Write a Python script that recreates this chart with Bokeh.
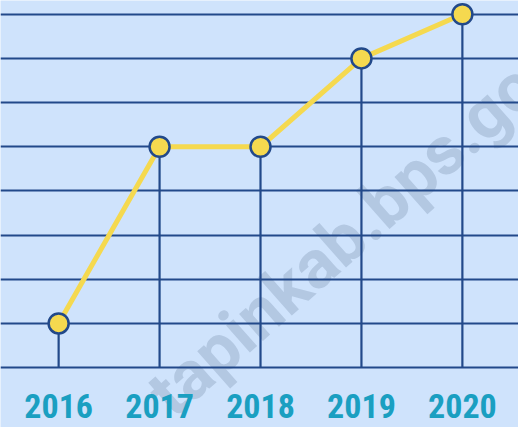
from bokeh.plotting import figure
from bokeh.models import Range1d, FixedTicker, ColumnDataSource
from bokeh.core.properties import value
from bokeh.embed import file_html
from bokeh.resources import INLINE

# data
years = [2016, 2017, 2018, 2019, 2020]
values = [1, 5, 5, 7, 8]
year_labels = ["2016", "2017", "2018", "2019", "2020"]
grid_levels = [0, 1, 2, 3, 4, 5, 6, 7, 8]

BG = "#cfe3fc"
NAVY = "#22498a"
YELLOW = "#f5d94f"
TEAL = "#1a9fc1"

p = figure(width=518, height=427, output_backend="svg", toolbar_location=None,
           x_range=Range1d(2015.424, 2020.556), y_range=Range1d(-1.356, 8.311),
           min_border=0, background_fill_color=BG, border_fill_color=BG,
           outline_line_color=None)
p.xaxis.visible = False
p.yaxis.visible = False
p.xgrid.visible = False
p.ygrid.ticker = FixedTicker(ticks=grid_levels)
p.ygrid.grid_line_color = NAVY
p.ygrid.grid_line_width = 2.2

# watermark
wm = p.text(x=[2019.10], y=[3.47], text=["tapinkab.bps.go.id"], angle=0.724,
            text_font=value("Roboto"), text_font_style="bold",
            text_font_size="68px", text_color="#7d95b3", text_alpha=0.35,
            text_align="center", text_baseline="middle")
wm.level = "image"

src = ColumnDataSource(dict(x=years, y=values, base=[0] * len(years), lab=year_labels))

p.segment(x0="x", y0="base", x1="x", y1="y", source=src, line_color=NAVY, line_width=2.2)
p.line(x="x", y="y", source=src, line_color=YELLOW, line_width=5)
p.scatter(x="x", y="y", source=src, size=20, fill_color=YELLOW, line_color=NAVY, line_width=2.5)

label_y = -0.87
p.text(x="x", y=label_y, text="lab", source=src,
       text_font=value("Roboto Condensed"),
       text_font_style="bold", text_font_size="34px", text_color=TEAL,
       text_align="center", text_baseline="middle")

open("out.html", "w").write(file_html(p, INLINE))
